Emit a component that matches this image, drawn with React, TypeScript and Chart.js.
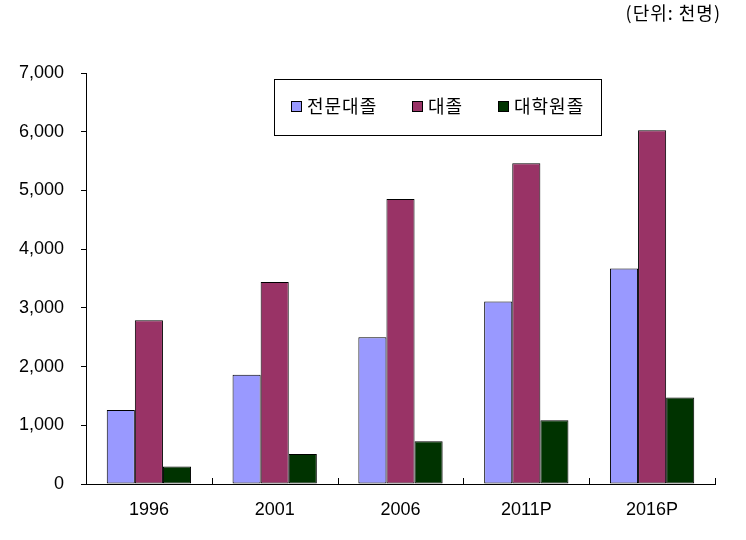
import React, { useEffect, useRef } from "react";
import { Chart, registerables } from "chart.js";

Chart.register(...registerables);

const categories = ["1996", "2001", "2006", "2011P", "2016P"];
const seriesLabels = ["전문대졸", "대졸", "대학원졸"];
const juniorCollege = [1260, 1860, 2500, 3110, 3670];
const university = [2790, 3440, 4855, 5465, 6025];
const graduate = [300, 510, 730, 1085, 1475];
const seriesColors = ["#9999FF", "#993366", "#003300"];
const unitText = "(단위: 천명)";

const decorPlugin = {
  id: "decor",
  afterDraw(chart: any) {
    const ctx = chart.ctx;
    const x = chart.scales.x;
    const area = chart.chartArea;
    ctx.save();
    ctx.strokeStyle = "#000";
    ctx.lineWidth = 1;
    const n = categories.length;
    for (let i = 0; i <= n; i++) {
      let px;
      if (i === 0) px = area.left;
      else if (i === n) px = area.right;
      else px = (x.getPixelForValue(i - 1) + x.getPixelForValue(i)) / 2;
      const rx = Math.round(px) + 0.5;
      ctx.beginPath();
      ctx.moveTo(rx, area.bottom);
      ctx.lineTo(rx, area.bottom - 6);
      ctx.stroke();
    }
    // legend box
    const lx = 274.5, ly = 79.5, lw = 327, lh = 56;
    ctx.fillStyle = "#fff";
    ctx.fillRect(lx, ly, lw, lh);
    ctx.strokeStyle = "#000";
    ctx.strokeRect(lx, ly, lw, lh);
    const itemX = [291, 412, 498];
    ctx.font = "18px 'Noto Sans CJK KR', sans-serif";
    ctx.textBaseline = "middle";
    ctx.textAlign = "left";
    (ctx as any).letterSpacing = "1px";
    chart.data.datasets.forEach((ds: any, i: number) => {
      ctx.fillStyle = ds.backgroundColor;
      ctx.fillRect(itemX[i] + 0.5, 101.5, 10, 10);
      ctx.strokeStyle = "#000";
      ctx.strokeRect(itemX[i] + 0.5, 101.5, 10, 10);
      ctx.fillStyle = "#000";
      ctx.fillText(ds.label, itemX[i] + 16, 106);
    });
    (ctx as any).letterSpacing = "1px";
    ctx.font = "18px 'Noto Sans CJK KR', serif";
    ctx.textAlign = "right";
    ctx.fillStyle = "#000";
    ctx.fillText(unitText, 721, 13);
    ctx.restore();
  },
};

export default function App() {
  const ref = useRef<HTMLCanvasElement>(null);
  useEffect(() => {
    const data = [juniorCollege, university, graduate];
    const chart = new Chart(ref.current as HTMLCanvasElement, {
      type: "bar",
      data: {
        labels: categories,
        datasets: seriesLabels.map((label, i) => ({
          label,
          data: data[i],
          backgroundColor: seriesColors[i],
          borderColor: "#000",
          borderWidth: 1,
          borderSkipped: false,
          categoryPercentage: 0.67,
          barPercentage: 1,
        })),
      },
      options: {
        animation: false,
        responsive: false,
        maintainAspectRatio: false,
        layout: { padding: { top: 73, right: 31, left: 0, bottom: 0 } },
        plugins: { legend: { display: false }, tooltip: { enabled: false } },
        scales: {
          x: {
            grid: { display: false, drawTicks: false },
            border: { display: true, color: "#000", width: 1 },
            ticks: {
              color: "#000",
              padding: 15,
              font: { family: "'Liberation Sans', Arial, sans-serif", size: 18 },
            },
            afterFit: (s: any) => {
              s.height = 56;
            },
          },
          y: {
            min: 0,
            max: 7000,
            grid: { drawOnChartArea: false, drawTicks: true, tickLength: 5, color: "#000" },
            border: { display: true, color: "#000", width: 1 },
            ticks: {
              stepSize: 1000,
              color: "#000",
              padding: 17,
              font: { family: "'Liberation Sans', Arial, sans-serif", size: 18 },
              callback: (v: any) => Number(v).toLocaleString("en-US"),
            },
            afterFit: (s: any) => {
              s.width = 86;
            },
          },
        },
      },
      plugins: [decorPlugin],
    });
    return () => chart.destroy();
  }, []);
  return (
    <div style={{ position: "fixed", left: 0, top: 0, width: 746, height: 540, background: "#fff" }}>
      <canvas ref={ref} width={746} height={540} style={{ width: 746, height: 540 }} />
    </div>
  );
}
